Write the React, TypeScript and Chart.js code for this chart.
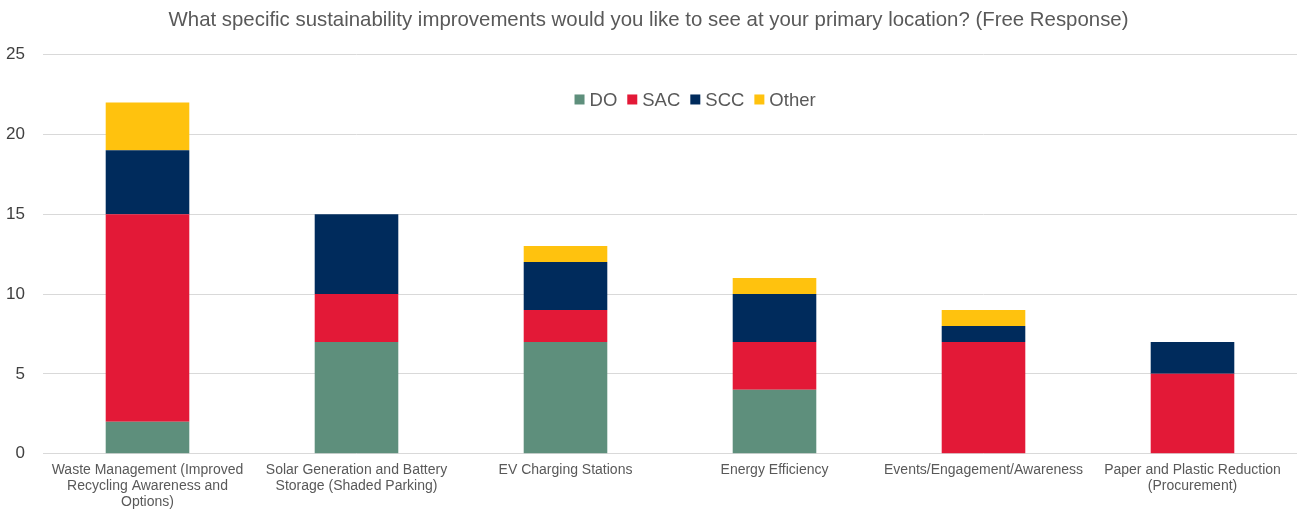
import React, { useEffect, useRef } from "react";
import { Chart, registerables } from "chart.js";

Chart.register(...registerables);

const categories: (string | string[])[] = [
  ["Waste Management (Improved", "Recycling Awareness and", "Options)"],
  ["Solar Generation and Battery", "Storage (Shaded Parking)"],
  "EV Charging Stations",
  "Energy Efficiency",
  "Events/Engagement/Awareness",
  ["Paper and Plastic Reduction", "(Procurement)"],
];

const doValues = [2, 7, 7, 4, 0, 0];
const sacValues = [13, 3, 2, 3, 7, 5];
const sccValues = [4, 5, 3, 3, 1, 2];
const otherValues = [3, 0, 1, 1, 1, 0];

const seriesNames = ["DO", "SAC", "SCC", "Other"];
const seriesColors = ["#5E8F7C", "#E31937", "#002B5C", "#FFC20E"];

const titleText =
  "What specific sustainability improvements would you like to see at your primary location? (Free Response)";

const FONT = "'Liberation Sans', Arial, sans-serif";

const insideLegend = {
  id: "insideLegend",
  afterDraw(chart: any) {
    const ctx = chart.ctx;
    const area = chart.chartArea;
    const fontSize = 18.5;
    const box = 10;
    const gapBoxText = 5;
    const gapItems = 10;
    ctx.save();
    ctx.font = `${fontSize}px ${FONT}`;
    const items = chart.data.datasets.map((ds: any) => ({
      text: ds.label as string,
      color: ds.backgroundColor as string,
      w: ctx.measureText(ds.label).width,
    }));
    const total =
      items.reduce((s: number, it: any) => s + box + gapBoxText + it.w, 0) +
      gapItems * (items.length - 1);
    const cx = area.left + (area.right - area.left) * 0.52;
    const cy = area.top + 45;
    let x = cx - total / 2;
    ctx.textBaseline = "middle";
    ctx.textAlign = "left";
    for (const it of items) {
      ctx.fillStyle = it.color;
      ctx.fillRect(x, cy - box / 2, box, box);
      x += box + gapBoxText;
      ctx.fillStyle = "#595959";
      ctx.fillText(it.text, x, cy + 1);
      x += it.w + gapItems;
    }
    ctx.restore();
  },
};

export default function App() {
  const canvasRef = useRef<HTMLCanvasElement | null>(null);

  useEffect(() => {
    document.body.style.margin = "0";
    const canvas = canvasRef.current;
    if (!canvas) return;
    const values = [doValues, sacValues, sccValues, otherValues];
    const chart = new Chart(canvas, {
      type: "bar",
      data: {
        labels: categories,
        datasets: seriesNames.map((name, i) => ({
          label: name,
          data: values[i],
          backgroundColor: seriesColors[i],
          borderWidth: 0,
          categoryPercentage: 1,
          barPercentage: 0.4,
        })),
      },
      plugins: [insideLegend],
      options: {
        animation: false,
        responsive: true,
        maintainAspectRatio: false,
        layout: { padding: { left: 0, right: 2, top: 0, bottom: 0 } },
        plugins: {
          title: {
            display: true,
            text: titleText,
            color: "#595959",
            font: { family: FONT, size: 20.4, weight: "normal" },
            padding: { top: 8, bottom: 22 },
          },
          legend: { display: false },
          tooltip: { enabled: false },
        },
        scales: {
          x: {
            stacked: true,
            grid: { display: false, drawTicks: false },
            border: { display: false },
            ticks: {
              color: "#595959",
              font: { family: FONT, size: 14, lineHeight: 1.15 },
              padding: 8,
              maxRotation: 0,
              autoSkip: false,
            },
          },
          y: {
            stacked: true,
            min: 0,
            max: 25,
            border: { display: false },
            grid: { color: "#D9D9D9", lineWidth: 1, drawTicks: false },
            ticks: {
              stepSize: 5,
              color: "#404040",
              font: { family: FONT, size: 17 },
              padding: 18,
            },
            afterFit: (scale: any) => {
              scale.width = 43;
            },
          },
        },
      },
    });
    return () => chart.destroy();
  }, []);

  return (
    <div style={{ width: 1299, height: 518, position: "relative" }}>
      <canvas ref={canvasRef} />
    </div>
  );
}
